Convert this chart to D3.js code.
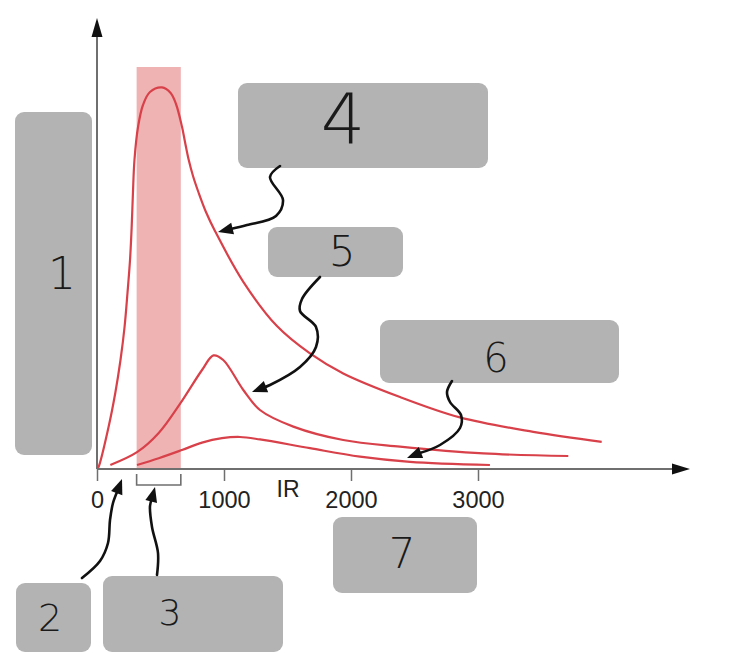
<!DOCTYPE html>
<html><head><meta charset="utf-8">
<script src="https://cdn.jsdelivr.net/npm/d3@7"></script>
<style>body{margin:0;background:#fff}svg{display:block}</style>
</head><body>
<svg id="c" width="747" height="653"></svg>
<script>
// ---- data ----
const xTicks = [0, 1000, 2000, 3000];
const xLabel = "IR";
const band = [312, 660];           // highlighted wavelength range
const bandTop = 100.5;
const curve1X = [0, 12, 91, 144, 185, 217, 240, 260, 273, 283, 295, 323, 362, 417, 512, 580, 622, 669, 693, 722, 756, 801, 858, 929, 1152, 1415, 1677, 1939, 2386, 2858, 3435, 3974];
const curve1Y = [0, 0.5, 10.5, 19, 27.25, 35.5, 44, 52.25, 60.5, 69, 77.25, 85.5, 91, 94.25, 95.4, 94, 91.25, 85.6, 81.75, 77.3, 73.25, 69, 64.25, 59.5, 46.8, 35.8, 28.9, 23.9, 18.0, 12.9, 9.3, 6.8];
const curve2X = [105, 315, 486, 656, 827, 917, 994, 1152, 1283, 1546, 1939, 2386, 3042, 3711];
const curve2Y = [1, 4.2, 9, 16.4, 24.75, 28.4, 27.25, 19.75, 14.75, 10.6, 7.25, 5.6, 3.9, 3.25];
const curve3X = [315, 486, 669, 827, 984, 1126, 1283, 1677, 2071, 2465, 3094];
const curve3Y = [1, 2.7, 4.75, 6.6, 7.7, 8, 7.4, 5.2, 3.1, 1.8, 1];
const boxLabels = ["1", "2", "3", "4", "5", "6", "7"];

// ---- layout (annotation boxes and arrows, pixels) ----
const boxes = [
  {x:15, y:112, w:77, h:343, lx:62, ly:273, fs:44},
  {x:16, y:583, w:75, h:69, lx:50, ly:618, fs:38},
  {x:103, y:576, w:180, h:76, lx:170, ly:612, fs:36},
  {x:238, y:83, w:250, h:85, lx:343, ly:119, fs:70},
  {x:268, y:227, w:135, h:50, lx:342, ly:251, fs:42},
  {x:380, y:320, w:239, h:63, lx:496, ly:358, fs:40},
  {x:333, y:517, w:144, h:76, lx:402, ly:553, fs:42}
];
const arrows = [
  [[280,166],[270,177],[283,200],[276,216],[247,225],[218,232]],
  [[320,277],[302,299],[300,311],[316,327],[316,347],[300,367],[270,385],[252,392]],
  [[452,381],[447,392],[450,402],[461,415],[460,428],[440,445],[407,458]],
  [[82,578],[100,561],[108,543],[110,520],[113,503],[122,479]],
  [[157,575],[158,553],[152,527],[150,506],[155,487]]
];

const svg = d3.select("#c");
const x = d3.scaleLinear().domain([0, 3000]).range([97, 478]);
const y = d3.scaleLinear().domain([0, 100]).range([469, 69]);

// band
svg.append("rect")
  .attr("x", x(band[0])).attr("width", x(band[1]) - x(band[0]))
  .attr("y", y(bandTop)).attr("height", y(0) - y(bandTop))
  .attr("fill", "#f0b3b3");

// curves
const line = d3.line().x(d => x(d[0])).y(d => y(d[1])).curve(d3.curveCatmullRom.alpha(0.5));
[[curve1X, curve1Y], [curve2X, curve2Y], [curve3X, curve3Y]].forEach(([xs, ys]) => {
  svg.append("path").attr("d", line(d3.zip(xs, ys)))
    .attr("fill", "none").attr("stroke", "#d8414a").attr("stroke-width", 2.2);
});

// axes
const axisCol = "#6f6f6f";
svg.append("line").attr("x1", x(0)).attr("x2", 676).attr("y1", y(0)).attr("y2", y(0))
  .attr("stroke", axisCol).attr("stroke-width", 2);
svg.append("line").attr("x1", x(0)).attr("x2", x(0)).attr("y1", y(0)).attr("y2", 34)
  .attr("stroke", axisCol).attr("stroke-width", 2);
svg.append("path").attr("d", `M690,${y(0)} L672,${y(0)-5.5} L672,${y(0)+5.5} Z`).attr("fill", "#111");
svg.append("path").attr("d", `M${x(0)},18 L${x(0)-5.5},37 L${x(0)+5.5},37 Z`).attr("fill", "#111");

const xAxis = d3.axisBottom(x).tickValues(xTicks).tickSize(12).tickFormat(d3.format("d"));
const gx = svg.append("g").attr("transform", `translate(0,${y(0)})`).call(xAxis);
gx.select(".domain").remove();
gx.attr("font-size", null).attr("font-family", null);
gx.selectAll(".tick line").attr("stroke", axisCol).attr("stroke-width", 1.5);
gx.selectAll(".tick text").attr("y", 22).attr("dy", "0.71em")
  .style("font-family", "Liberation Sans, Arial, sans-serif").style("font-size", "23.5px").attr("fill", "#222");
svg.append("text").attr("x", 288).attr("y", 497).attr("text-anchor", "middle")
  .style("font-family", "Liberation Sans, Arial, sans-serif").style("font-size", "23px").attr("fill", "#222")
  .text(xLabel);

// bracket under band
svg.append("path")
  .attr("d", `M${x(band[0])},474 V485 H${x(band[1])} V474`)
  .attr("fill", "none").attr("stroke", axisCol).attr("stroke-width", 1.6);

// gray annotation boxes
boxes.forEach((b, i) => {
  svg.append("rect").attr("x", b.x).attr("y", b.y).attr("width", b.w).attr("height", b.h)
    .attr("rx", 9).attr("fill", "#b3b3b3");
  svg.append("text").attr("x", b.lx).attr("y", b.ly).attr("text-anchor", "middle")
    .attr("dominant-baseline", "central")
    .attr("font-family", "DejaVu Sans, sans-serif").attr("font-weight", 200)
    .attr("font-size", b.fs).attr("fill", "#1a1a1a").text(boxLabels[i]);
});

// arrows
const aline = d3.line().curve(d3.curveCatmullRom);
arrows.forEach(pts => {
  const n = pts.length;
  const tip = pts[n - 1], prev = pts[n - 2];
  const ang = Math.atan2(tip[1] - prev[1], tip[0] - prev[0]);
  const L = 15, W = 6;
  const bx = tip[0] - L * Math.cos(ang), by = tip[1] - L * Math.sin(ang);
  const shaft = pts.slice(0, n - 1).concat([[bx + 3 * Math.cos(ang), by + 3 * Math.sin(ang)]]);
  svg.append("path").attr("d", aline(shaft)).attr("fill", "none")
    .attr("stroke", "#111").attr("stroke-width", 2.6).attr("stroke-linecap", "round");
  const px = -Math.sin(ang) * W, py = Math.cos(ang) * W;
  svg.append("path")
    .attr("d", `M${tip[0]},${tip[1]} L${bx + px},${by + py} L${bx - px},${by - py} Z`)
    .attr("fill", "#111");
});
</script>
</body></html>
